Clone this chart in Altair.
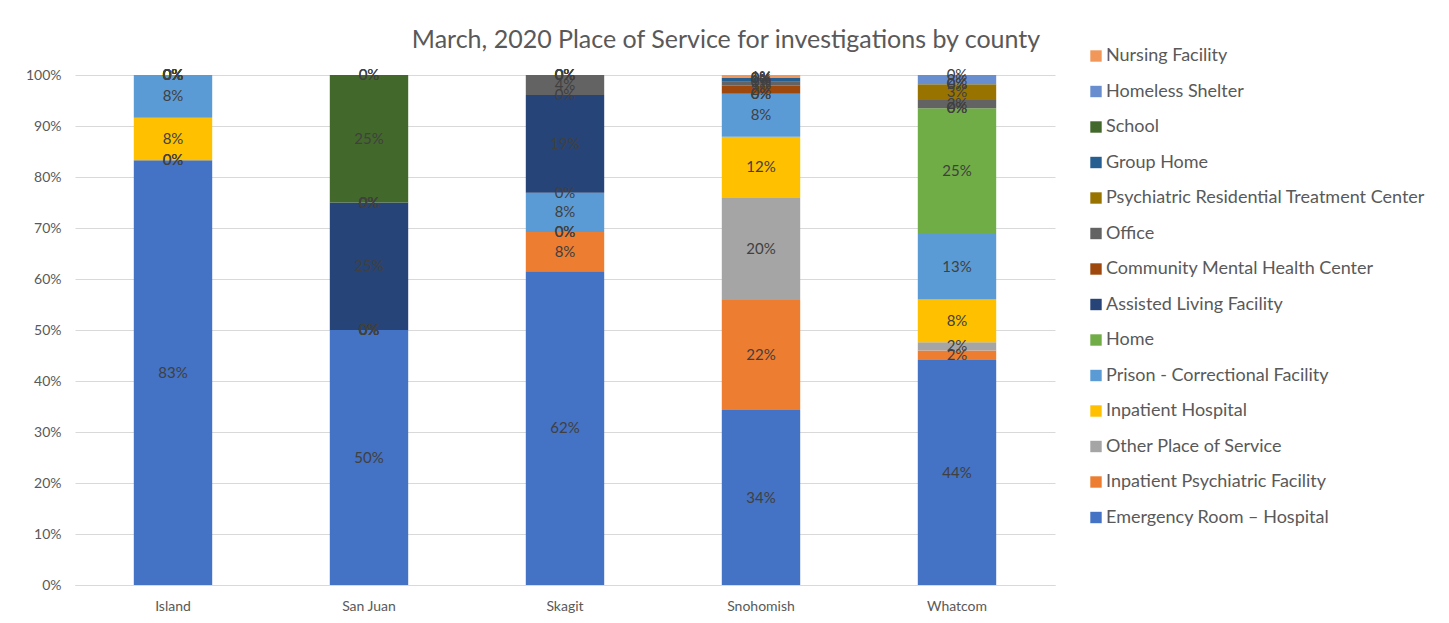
import altair as alt
import pandas as pd

counties = ["Island", "San Juan", "Skagit", "Snohomish", "Whatcom"]

# stack order bottom -> top
categories = [
    "Emergency  Room – Hospital",
    "Inpatient Psychiatric Facility",
    "Other Place of Service",
    "Inpatient Hospital",
    "Prison - Correctional Facility",
    "Home",
    "Assisted Living Facility",
    "Community Mental Health Center",
    "Office",
    "Psychiatric Residential Treatment Center",
    "Group Home",
    "School",
    "Homeless Shelter",
    "Nursing Facility",
]
colors = [
    "#4472C4", "#ED7D31", "#A5A5A5", "#FFC000", "#5B9BD5", "#70AD47",
    "#264478", "#9E480E", "#636363", "#997300", "#255E91", "#43682B",
    "#698ED0", "#F1975A",
]

# percent values per category, in county order
er = [83.3, 50.0, 61.5, 34.3, 44.1]
ipf = [0, 0, 7.7, 21.6, 1.9]
other = [0, 0, 0, 20.0, 1.6]
ih = [8.3, 0, 0, 12.0, 8.4]
prison = [8.4, 0, 7.7, 8.4, 12.8]
home = [0, 0, 0, 0, 24.7]
alf = [0, 25.0, 19.2, 0, 0]
cmhc = [0, 0, 0, 1.6, 0]
office = [0, 0, 3.9, 0.8, 1.6]
prtc = [0, 0, 0, 0, 3.1]
gh = [0, 0, 0, 0.7, 0]
school = [0, 25.0, 0, 0, 0]
hs = [0, 0, 0, 0, 1.8]
nf = [0, 0, 0, 0.6, 0]

series = [er, ipf, other, ih, prison, home, alf, cmhc, office, prtc, gh, school, hs, nf]

rows = []
for i, (cat, vals) in enumerate(zip(categories, series)):
    for c, v in zip(counties, vals):
        rows.append({"county": c, "cat": cat, "idx": i, "v": v})
df = pd.DataFrame(rows)

FONT = "Lato"
legend_domain = categories[::-1]
legend_range = colors[::-1]

base = alt.Chart(df).transform_stack(
    stack="v", as_=["y0", "y1"], groupby=["county"],
    sort=[alt.SortField("idx", order="ascending")],
).transform_calculate(
    mid="(datum.y0 + datum.y1) / 2",
    label="format(datum.v / 100, '.0%')",
)

xenc = alt.X(
    "county:N", sort=counties, title=None,
    scale=alt.Scale(paddingInner=0.6, paddingOuter=0.3),
    axis=alt.Axis(labelAngle=0, labelFont=FONT, labelFontSize=14, labelColor="#595959",
                  domainColor="#D9D9D9", ticks=False, labelPadding=14),
)

bars = base.mark_bar().encode(
    x=xenc,
    y=alt.Y("y0:Q", title=None, scale=alt.Scale(domain=[0, 100], nice=False),
            axis=alt.Axis(values=list(range(0, 101, 10)), labelExpr="datum.value + '%'",
                          labelFont=FONT, labelFontSize=14, labelColor="#595959",
                          gridColor="#D9D9D9", domain=False, ticks=False, labelPadding=14)),
    y2="y1:Q",
    color=alt.Color("cat:N", scale=alt.Scale(domain=legend_domain, range=legend_range),
                    legend=alt.Legend(title=None, orient="none", legendX=1012, legendY=-28,
                                      symbolType="square", symbolSize=130, symbolStrokeWidth=0,
                                      labelFont=FONT, labelFontSize=18, labelColor="#595959",
                                      rowPadding=17.5, labelOffset=1, labelLimit=400)),
    order=alt.Order("idx:Q", sort="ascending"),
)

labels = base.mark_text(font=FONT, fontSize=15, color="#404040").encode(
    x=alt.X("county:N", sort=counties),
    y=alt.Y("mid:Q"),
    text="label:N",
)

chart = (bars + labels).properties(
    width=980, height=510,
    title=alt.TitleParams("March, 2020 Place of Service for investigations by county",
                          font=FONT, fontSize=25, fontWeight="normal", color="#595959",
                          anchor="middle", dx=161, offset=-6),
    autosize=alt.AutoSizeParams(type="none"),
    padding={"left": 67, "top": 67, "right": 380, "bottom": 35},
).configure_view(stroke=None)

chart.save("out.html", embed_options={"renderer": "svg", "actions": False})
